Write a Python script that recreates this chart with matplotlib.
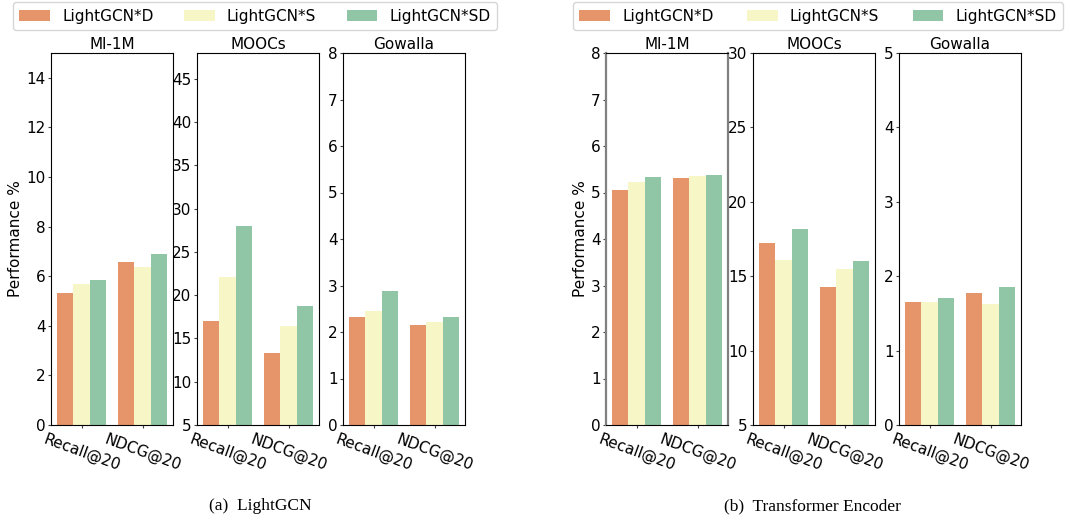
# Bar charts of LightGCN variants on three datasets, two backbones side by side

import numpy as np
import matplotlib
matplotlib.use('Agg')
import matplotlib.pyplot as plt
from matplotlib.patches import Patch

#----------------------------------------- DATA -----------------------------------
datasets = ['Ml-1M', 'MOOCs', 'Gowalla']
metrics = ['Recall@20', 'NDCG@20']
variants = ['LightGCN*D', 'LightGCN*S', 'LightGCN*SD']

# (a) LightGCN, values per dataset: [variant][metric]
lightgcn_ml1m = [[5.34, 6.56], [5.67, 6.36], [5.83, 6.88]]
lightgcn_moocs = [[17.04, 13.30], [22.10, 16.46], [28.00, 18.77]]
lightgcn_gowalla = [[2.33, 2.16], [2.46, 2.22], [2.89, 2.33]]

# (b) Transformer Encoder
transformer_ml1m = [[5.06, 5.32], [5.23, 5.36], [5.34, 5.38]]
transformer_moocs = [[17.21, 14.28], [16.09, 15.49], [18.17, 16.03]]
transformer_gowalla = [[1.65, 1.77], [1.65, 1.62], [1.71, 1.85]]

# y limits and ticks per panel
lightgcn_ylims = [(0, 15), (5, 48), (0, 8)]
lightgcn_yticks = [np.arange(0, 15, 2), np.arange(5, 48, 5), np.arange(0, 9, 1)]
transformer_ylims = [(0, 8), (5, 30), (0, 5)]
transformer_yticks = [np.arange(0, 9, 1), np.arange(5, 31, 5), np.arange(0, 6, 1)]

captions = ['(a)  LightGCN', '(b)  Transformer Encoder']

colors = ['#E6956A', '#F7F6C7', '#90C6A6']

#----------------------------------------- PLOTTER --------------------------------
plt.rcParams['font.family'] = ['DejaVu Sans']
plt.rcParams['font.size'] = 11

fig = plt.figure(figsize=(10.70, 5.20), dpi=100)

W, H = 1070.0, 520.0
top_px, bottom_px = 53, 425
ax_w = 122
group_lefts = [[51, 197, 343], [606, 753, 899]]

groups = [
    ([lightgcn_ml1m, lightgcn_moocs, lightgcn_gowalla], lightgcn_ylims, lightgcn_yticks),
    ([transformer_ml1m, transformer_moocs, transformer_gowalla], transformer_ylims, transformer_yticks),
]

x = np.arange(len(metrics))
bar_w = 0.8 / len(variants)

for g, (data, ylims, yticks) in enumerate(groups):
    for d, name in enumerate(datasets):
        left = group_lefts[g][d] / W
        ax = fig.add_axes([left, 1 - bottom_px / H, ax_w / W, (bottom_px - top_px) / H])
        vals = data[d]
        lo = ylims[d][0]
        for v in range(len(variants)):
            heights = np.array(vals[v]) - lo
            ax.bar(x - 0.4 + bar_w * (v + 0.5), heights, bar_w, bottom=lo,
                   color=colors[v], edgecolor='none')
        ax.set_xlim(-0.5, 1.5)
        ax.set_ylim(*ylims[d])
        ax.set_yticks(yticks[d])
        ax.set_xticks(x)
        ax.set_xticklabels(metrics, rotation=-20, ha='center')
        ax.tick_params(axis='both', length=2.5, width=0.8, color='#444444')
        ax.tick_params(axis='x', pad=2.5)
        ax.tick_params(axis='y', pad=1.5)
        ax.set_title(name, fontsize=11, pad=3)
        if d == 0:
            ax.set_ylabel('Performance %', labelpad=2)
        # the first panel on the right has grey side frame lines
        if g == 1 and d == 0:
            for s in ['left', 'right']:
                ax.spines[s].set_color('#808080')
                ax.spines[s].set_linewidth(1.6)

# Legends, one per group
handles = [Patch(facecolor=c, edgecolor='none') for c in colors]
for cx, cs in [(255 / W, 2.0), (818 / W, 2.2)]:
    fig.legend(handles, variants, loc='center', bbox_to_anchor=(cx, 1 - 16 / H),
               ncol=3, fontsize=11, frameon=True, handlelength=2.0,
               columnspacing=cs, borderaxespad=0.2)

# Captions under each group
for cap, cx in zip(captions, [260 / W, 812 / W]):
    fig.text(cx, 1 - 506 / H, cap, ha='center', va='center',
             fontsize=12.5, family='Liberation Serif')

plt.savefig('out.png', dpi=100)
